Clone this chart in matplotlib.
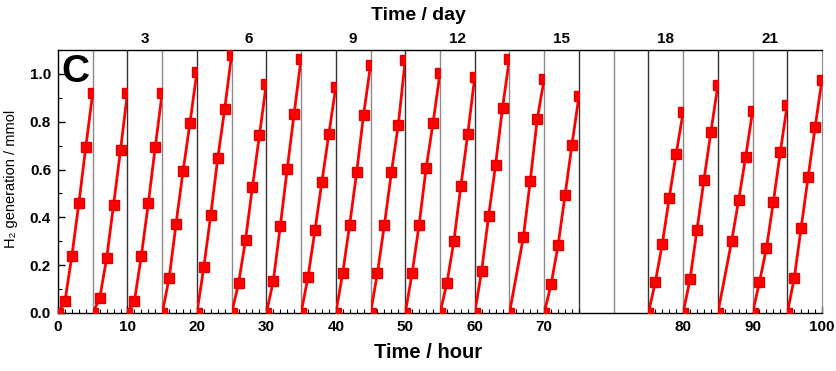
import matplotlib
matplotlib.use("Agg")
import matplotlib.pyplot as plt
from matplotlib.patches import Rectangle
from matplotlib.ticker import FixedLocator, FixedFormatter, MultipleLocator

plt.rcParams['font.family'] = ['Liberation Sans', 'DejaVu Sans']

# one cycle per day (5 h of irradiation each), days 16-17 without data
days = [1, 2, 3, 4, 5, 6, 7, 8, 9, 10, 11, 12, 13, 14, 15, 18, 19, 20, 21, 22]
cycle_hours = [
    [0, 1, 2, 3, 4, 5], [0, 1, 2, 3, 4, 5], [0, 1, 2, 3, 4, 5], [0, 1, 2, 3, 4, 5],
    [0, 1, 2, 3, 4, 5], [0, 1, 2, 3, 4, 5], [0, 1, 2, 3, 4, 5], [0, 1, 2, 3, 4, 5],
    [0, 1, 2, 3, 4, 5], [0, 1, 2, 3, 4, 5], [0, 1, 2, 3, 4, 5], [0, 1, 2, 3, 4, 5],
    [0, 1, 2, 3, 4, 5], [0, 2, 3, 4, 5], [0, 1, 2, 3, 4, 5],
    [0, 1, 2, 3, 4, 5], [0, 1, 2, 3, 4, 5], [0, 2, 3, 4, 5], [0, 1, 2, 3, 4, 5],
    [0, 1, 2, 3, 4, 5],
]
h2 = [
    [0, 0.050, 0.239, 0.458, 0.694, 0.920],
    [0, 0.061, 0.228, 0.452, 0.681, 0.920],
    [0, 0.050, 0.239, 0.458, 0.695, 0.920],
    [0, 0.145, 0.374, 0.592, 0.795, 1.008],
    [0, 0.193, 0.411, 0.647, 0.853, 1.081],
    [0, 0.124, 0.306, 0.529, 0.743, 0.959],
    [0, 0.134, 0.362, 0.602, 0.834, 1.064],
    [0, 0.152, 0.346, 0.550, 0.749, 0.946],
    [0, 0.169, 0.370, 0.588, 0.830, 1.036],
    [0, 0.169, 0.370, 0.588, 0.788, 1.060],
    [0, 0.169, 0.370, 0.606, 0.795, 1.004],
    [0, 0.126, 0.300, 0.531, 0.749, 0.987],
    [0, 0.177, 0.406, 0.619, 0.858, 1.064],
    [0, 0.317, 0.554, 0.811, 0.979],
    [0, 0.121, 0.283, 0.492, 0.704, 0.906],
    [0, 0.129, 0.288, 0.481, 0.665, 0.839],
    [0, 0.141, 0.348, 0.556, 0.757, 0.952],
    [0, 0.302, 0.472, 0.651, 0.843],
    [0, 0.130, 0.271, 0.465, 0.674, 0.871],
    [0, 0.145, 0.357, 0.568, 0.776, 0.976],
]
hour_labels = [0, 10, 20, 30, 40, 50, 60, 70, 80, 90, 100]
day_labels = [3, 6, 9, 12, 15, 18, 21]

CYCLE = 5
n_days = 22


def pos(day, h=0):
    # x position on the plot: each day gets a 5 h wide cell
    return CYCLE * (day - 1) + h


def hour_pos(hr):
    # the hour axis skips the two empty days after 75 h
    return hr if hr <= 75 else hr + 2 * CYCLE


fig = plt.figure(figsize=(8.37, 3.71), dpi=100)
ax = fig.add_axes([58 / 837, 1 - 313 / 371, 764 / 837, 263 / 371])
xmax = pos(n_days + 1)
ax.set_xlim(0, xmax)
ax.set_ylim(0, 1.1)

# cell borders
dark = [10, 20, 30, 40, 50, 60, 75, 85, 95, 105]
for b in range(CYCLE, xmax, CYCLE):
    ax.axvline(b, color='#333333' if b in dark else '#8a8a8a', lw=1.0, zorder=1)

for d, hh, vv in zip(days, cycle_hours, h2):
    x = [pos(d, h) for h in hh]
    ln, = ax.plot(x, vv, color='#ff0000', lw=2.0, marker='s', ms=7.5,
                  mec='#e00000', mfc='#ff0000', zorder=3)
    cell = Rectangle((pos(d), 0), CYCLE, 1.1, transform=ax.transData)
    ln.set_clip_path(cell)

# bottom axis (hours)
ax.xaxis.set_major_locator(FixedLocator([hour_pos(h) for h in hour_labels]))
ax.xaxis.set_major_formatter(FixedFormatter([str(h) for h in hour_labels]))
minor = [u for u in range(0, xmax + 1) if not (75 < u < 85)]
ax.xaxis.set_minor_locator(FixedLocator(minor))
ax.yaxis.set_major_locator(MultipleLocator(0.2))
ax.yaxis.set_minor_locator(MultipleLocator(0.1))
ax.yaxis.set_major_formatter(matplotlib.ticker.FormatStrFormatter('%.1f'))
ax.tick_params(which='major', direction='in', length=5, width=1, labelsize=11, pad=5)
ax.tick_params(which='minor', direction='in', length=3, width=0.8)
for lab in ax.get_xticklabels() + ax.get_yticklabels():
    lab.set_fontweight('bold')

for s in ['left', 'bottom', 'top']:
    ax.spines[s].set_color('black')
    ax.spines[s].set_linewidth(1.0)
ax.spines['right'].set_color('#8a8a8a')

# top axis (days)
top = ax.secondary_xaxis('top')
top.set_xticks([pos(d, CYCLE / 2) for d in day_labels])
top.set_xticklabels([str(d) for d in day_labels], fontweight='bold', fontsize=11)
top.tick_params(length=0, pad=3)
top.spines['top'].set_visible(False)

ax.set_ylabel('H₂ generation / mmol', fontsize=10.5)
ax.yaxis.set_label_coords(-0.053, 0.51)
fig.text(428 / 837, 1 - 352 / 371, 'Time / hour', ha='center', va='center',
         fontsize=14.5, fontweight='bold')
fig.text(418 / 837, 1 - 16 / 371, 'Time / day', ha='center', va='center',
         fontsize=14, fontweight='bold')
ax.text(0.5, 1.085, 'C', ha='left', va='top', fontsize=28, fontweight='bold', zorder=5)

fig.savefig('out.png', dpi=100)
